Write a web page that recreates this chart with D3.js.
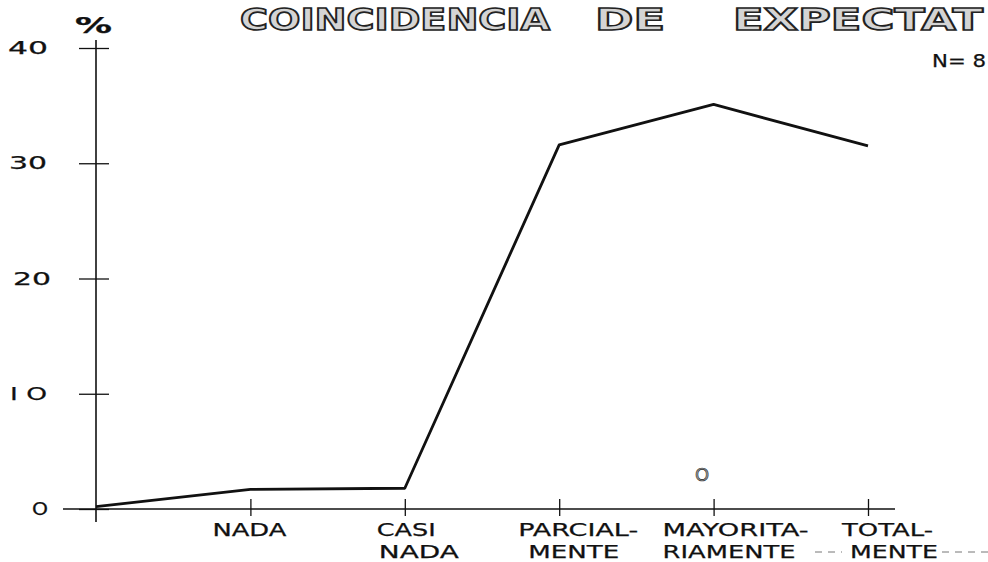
<!DOCTYPE html>
<html>
<head>
<meta charset="utf-8">
<script src="https://cdn.jsdelivr.net/npm/d3@7"></script>
<style>
  body { margin: 0; background: #fff; }
  svg text { font-family: "DejaVu Sans", sans-serif; fill: #111; }
</style>
</head>
<body>
<svg></svg>
<script>
// categories along the x axis (first one is the origin, no label)
var categories = ['', 'NADA', 'CASI NADA', 'PARCIALMENTE', 'MAYORITARIAMENTE', 'TOTALMENTE'];
var labelLines = [[], ['NADA'], ['CASI', 'NADA'], ['PARCIAL-', 'MENTE'], ['MAYORITA-', 'RIAMENTE'], ['TOTAL-', 'MENTE']];
var values = [0.2, 1.7, 1.8, 31.6, 35.1, 31.5];
var yTicks = [0, 10, 20, 30, 40];
var yTickLabels = ['O', 'I O', '20', '30', '40'];
var titleWords = ['COINCIDENCIA', 'DE', 'EXPECTAT'];

var width = 988, height = 562;

var svg = d3.select('svg')
  .attr('width', width)
  .attr('height', height);

var x = d3.scalePoint()
  .domain(categories)
  .range([96, 868]);

var y = d3.scaleLinear()
  .domain([0, 40])
  .range([509, 48]);

// put a text with a fixed width (the lettering is wide and hand spaced)
function label(t, x0, base, w, size) {
  return svg.append('text')
    .attr('x', x0)
    .attr('y', base)
    .attr('textLength', w)
    .attr('lengthAdjust', 'spacingAndGlyphs')
    .style('font-size', size + 'px')
    .style('stroke', '#111')
    .style('stroke-width', 0.25)
    .text(t);
}

// title (outlined lettering), runs off at the right edge
var titlePos = [[240, 310], [595, 70], [733, 250]];
titleWords.forEach(function (w, i) {
  svg.append('text')
    .attr('x', titlePos[i][0])
    .attr('y', 30)
    .attr('textLength', titlePos[i][1])
    .attr('lengthAdjust', 'spacingAndGlyphs')
    .style('font-size', '31px')
    .style('font-weight', 'bold')
    .style('fill', '#d4d4d4')
    .style('stroke', '#222')
    .style('stroke-width', 1.6)
    .text(w);
});

label('%', 75, 33, 37, 21).style('font-weight', 'bold');
label('N= 8', 932, 67, 54, 17);

// y axis
var yAxis = g => g
  .attr('transform', 'translate(' + x('') + ',0)')
  .call(d3.axisLeft(y).tickValues(yTicks).tickSize(0).tickFormat(''))
  .call(g => g.select('.domain').remove())
  .call(g => g.selectAll('.tick line')
    .attr('x1', -17).attr('x2', 13)
    .attr('stroke', '#111').attr('stroke-width', 1.3));

svg.append('g').call(yAxis);

var yLabelBox = [[32, 16], [10, 37], [13, 38], [9, 38], [8, 40]];
yTicks.forEach(function (v, i) {
  label(yTickLabels[i], yLabelBox[i][0], y(v) + 6, yLabelBox[i][1], 18);
});

svg.append('line')
  .attr('x1', x('')).attr('x2', x(''))
  .attr('y1', 40).attr('y2', 522)
  .attr('stroke', '#111').attr('stroke-width', 1.6);

// x axis
svg.append('line')
  .attr('x1', 63).attr('x2', 895)
  .attr('y1', y(0)).attr('y2', y(0))
  .attr('stroke', '#111').attr('stroke-width', 1.4);

var xAxis = svg.append('g')
  .attr('transform', 'translate(0,' + y(0) + ')')
  .call(d3.axisBottom(x).tickValues(categories.slice(1)).tickSize(0).tickFormat(''))
  .call(g => g.select('.domain').remove());

xAxis.selectAll('.tick line')
  .attr('y1', -10).attr('y2', 7)
  .attr('stroke', '#111').attr('stroke-width', 1.3);

// label boxes: [left offset from tick, width] per line
var labelBox = [[], [[-38, 74]], [[-28, 59], [-26, 80]], [[-41, 120], [-31, 91]],
  [[-51, 146], [-51, 133]], [[-26, 91], [-18, 88]]];
categories.forEach(function (c, i) {
  labelLines[i].forEach(function (t, j) {
    label(t, x(c) + labelBox[i][j][0], y(0) + 27 + j * 22, labelBox[i][j][1], 18);
  });
});

// the line
var line = d3.line()
  .x(function (d, i) { return x(categories[i]); })
  .y(function (d) { return y(d); });

svg.append('path')
  .datum(values)
  .attr('d', line)
  .attr('fill', 'none')
  .attr('stroke', '#111')
  .attr('stroke-width', 2.8)
  .attr('stroke-linejoin', 'round');

// stray mark near the x axis
svg.append('text')
  .attr('x', 695)
  .attr('y', 481)
  .style('font-size', '18px')
  .style('fill', '#999')
  .style('stroke', '#333')
  .style('stroke-width', 0.6)
  .text('O');

// dashed scan marks at the bottom right
[[815, 842], [942, 988]].forEach(function (s) {
  svg.append('line')
    .attr('x1', s[0]).attr('x2', s[1])
    .attr('y1', 552).attr('y2', 552)
    .attr('stroke', '#777').attr('stroke-width', 1)
    .attr('stroke-dasharray', '7,6');
});
</script>
</body>
</html>
